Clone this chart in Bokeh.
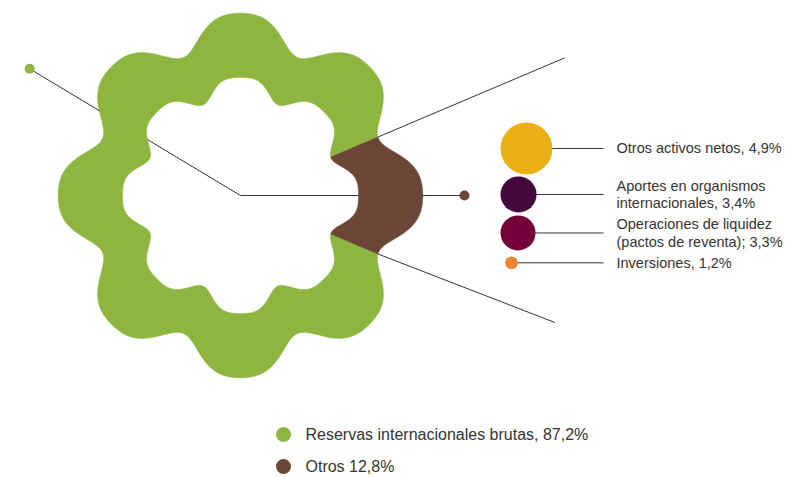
import numpy as np
from bokeh.plotting import figure
from bokeh.models import Range1d
from bokeh.core.properties import value
from bokeh.embed import file_html
from bokeh.resources import INLINE

# ---------------- data ----------------
main_labels = ["Reservas internacionales brutas, 87,2%", "Otros 12,8%"]
main_values = [87.2, 12.8]
main_colors = ["#8db53f", "#6c4738"]

sub_labels = ["Otros activos netos, 4,9%",
              "Aportes en organismos\ninternacionales, 3,4%",
              "Operaciones de liquidez\n(pactos de reventa); 3,3%",
              "Inversiones, 1,2%"]
sub_values = [4.9, 3.4, 3.3, 1.2]
sub_colors = ["#ebb013", "#430a3e", "#730039", "#ea8530"]

FONT = "Liberation Sans"
TXT = "#333333"

W, H = 788, 477
p = figure(width=W, height=H, output_backend="svg", toolbar_location=None,
           x_range=Range1d(0, W), y_range=Range1d(H, 0),
           min_border=0)
p.axis.visible = False
p.grid.visible = False
p.outline_line_color = None
p.background_fill_color = "white"

# ring geometry (screen px coordinates)
cx, cy = 240.0, 195.0
def r_out(t):
    ph = 8 * t
    return 168.8 + 16.5 * (np.cos(ph) - 0.18 * np.cos(2 * ph))
def r_in(t):
    ph = 8 * t
    return 110.5 + 10.0 * (np.cos(ph) - 0.25 * np.cos(2 * ph))

def pt(r, deg):
    t = np.radians(deg)
    return cx + r * np.cos(t), cy - r * np.sin(t)

# segment angles: "Otros" centred on 0 deg
otros_span = main_values[1] / 100 * 360
b0, b1 = -otros_span / 2, otros_span / 2
seg_angles = [(b1, 360 + b0), (b0, b1)]

# pointer lines from centre (drawn under ring)
xe, ye = pt(246, 149)
p.line([cx, xe], [cy, ye], line_color=TXT, line_width=1)
xb, yb = 464, cy
p.line([cx, xb], [cy, yb], line_color=TXT, line_width=1)

xs, ys = [], []
for a0, a1 in seg_angles:
    t = np.radians(np.linspace(a0, a1, 600))
    ro, ri = r_out(t), r_in(t)
    xo, yo = cx + ro * np.cos(t), cy - ro * np.sin(t)
    xi, yi = cx + ri * np.cos(t[::-1]), cy - ri * np.sin(t[::-1])
    xs.append(list(np.concatenate([xo, xi])))
    ys.append(list(np.concatenate([yo, yi])))
p.patches(xs, ys, fill_color=main_colors, line_color=main_colors, line_width=0.5)

# boundary extension lines
for ang, rend, aend in [(b1, 352, 23.0), (b0, 339, -22.0)]:
    x0, y0 = pt(r_out(np.radians(ang)), ang)
    x1, y1 = pt(rend, aend)
    p.line([x0, x1], [y0, y1], line_color=TXT, line_width=1)

# end dots of pointers
p.scatter([xe], [ye], size=10, fill_color=main_colors[0], line_color=None)
p.scatter([xb], [yb], size=10, fill_color=main_colors[1], line_color=None)

# sub-item bubbles (radius proportional to value)
k = 5.3
radii = [v * k for v in sub_values]
gaps = [2.0, 3.0, 6.0]
ycs = []
for i, r in enumerate(radii):
    if i == 0:
        yc = 122.0 + r
    else:
        yc = ycs[-1] + radii[i - 1] + gaps[i - 1] + r
    ycs.append(yc)
left = 500.0
xcs = [left + r if r > 10 else left + 11 for r in radii]
line_end = 603.0
for xc, yc in zip(xcs, ycs):
    p.line([xc, line_end], [yc, yc], line_color=TXT, line_width=1)
p.circle(x=xcs, y=ycs, radius=radii, fill_color=sub_colors, line_color=None)

tx, ty, tt = [], [], []
for lab, yc in zip(sub_labels, ycs):
    lines = lab.split("\n")
    n = len(lines)
    for j, ln in enumerate(lines):
        tx.append(616.0)
        ty.append(yc + (j - (n - 1) / 2) * 17.5)
        tt.append(ln)
p.text(x=tx, y=ty, text=tt, text_font=value(FONT), text_font_size="14.5px",
       text_color=TXT, text_baseline="middle", text_align="left")

# legend
ly = [434.0, 466.0]
p.scatter([283.0] * 2, ly, size=15, fill_color=main_colors, line_color=None)
p.text(x=[305.0] * 2, y=ly, text=main_labels, text_font=value(FONT),
       text_font_size="16px", text_color=TXT, text_baseline="middle", text_align="left")

open("out.html", "w").write(file_html(p, INLINE))
